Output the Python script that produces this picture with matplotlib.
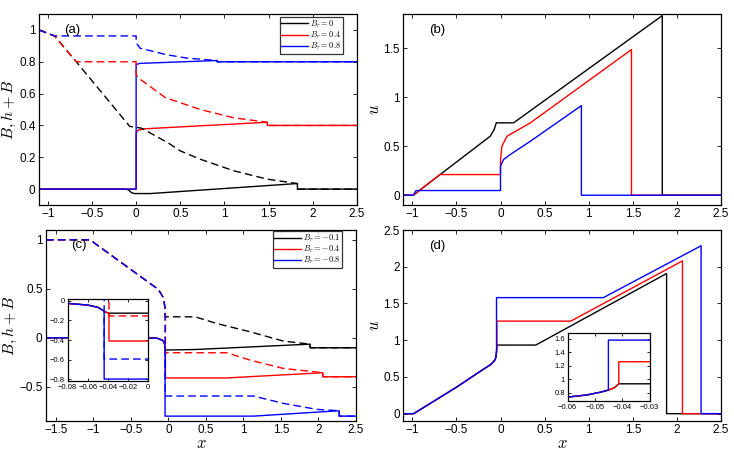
import matplotlib
matplotlib.use('Agg')
import matplotlib.pyplot as plt
from matplotlib.ticker import FuncFormatter

plt.rcParams['font.family'] = ['Liberation Sans', 'DejaVu Sans']
plt.rcParams['mathtext.fontset'] = 'cm'

# ---- panel (a): B (solid) and h+B (dashed), Br = 0, 0.4, 0.8
a_k_x = [-1.1, -0.11, -0.08, -0.053, -0.02, 0.16, 1.826, 1.826, 2.5]
a_k_B = [0, 0, -0.008, -0.022, -0.028, -0.028, 0.035, 0, 0]
a_k_hx = [-1.1, -0.924, -0.678, -0.072, 0.06, 0.364, 0.5, 0.727, 1.106, 1.485, 1.826, 1.826, 2.5]
a_k_hB = [1.0, 0.9625, 0.80, 0.394, 0.383, 0.29, 0.24, 0.1875, 0.115, 0.0625, 0.035, 0, 0]
a_r_x = [-1.1, 0.0, 0.0, 0.02, 0.099, 1.485, 1.485, 2.5]
a_r_B = [0, 0, 0.352, 0.37, 0.379, 0.42, 0.40, 0.40]
a_r_hx = [-1.1, -0.924, -0.678, 0.0, 0.0, 0.027, 0.33, 0.727, 1.106, 1.485, 1.485, 2.5]
a_r_hB = [1.0, 0.9625, 0.80, 0.80, 0.72, 0.698, 0.575, 0.5, 0.448, 0.42, 0.40, 0.40]
a_b_x = [-1.1, 0.0, 0.0, 0.045, 0.917, 0.917, 2.5]
a_b_B = [0, 0, 0.783, 0.79, 0.808, 0.80, 0.80]
a_b_hx = [-1.1, -0.924, 0.0, 0.0, 0.045, 0.35, 0.576, 0.917, 0.917, 2.5]
a_b_hB = [1.0, 0.9625, 0.9625, 0.92, 0.885, 0.844, 0.823, 0.808, 0.80, 0.80]

# ---- panel (b): u
b_k_x = [-1.1, -0.989, -0.685, -0.117, -0.072, -0.048, 0.148, 1.834, 1.834, 2.5]
b_k_u = [0, 0, 0.211, 0.602, 0.67, 0.739, 0.739, 1.834, 0, 0]
b_r_x = [-1.1, -0.989, -0.685, 0.0, 0.0, 0.016, 0.073, 0.338, 1.485, 1.485, 2.5]
b_r_u = [0, 0, 0.211, 0.211, 0.364, 0.5, 0.602, 0.739, 1.487, 0, 0]
b_b_x = [-1.1, -0.989, -0.958, 0.0, 0.0, 0.034, 0.11, 0.338, 0.917, 0.917, 2.5]
b_b_u = [0, 0, 0.048, 0.048, 0.296, 0.364, 0.415, 0.551, 0.915, 0, 0]

# ---- panel (c): Br = -0.1, -0.4, -0.8
c_k_x = [-1.63, -0.3, -0.15, -0.08, -0.06, -0.05, -0.046, -0.042, -0.039, 0.356, 1.889, 1.889, 2.5]
c_k_B = [0, 0, -0.005, -0.025, -0.042, -0.065, -0.09, -0.115, -0.125, -0.12, -0.065, -0.102, -0.102]
c_k_hx = [-1.63, -1.044, -0.133, -0.067, -0.055, -0.045, -0.045, 0.356, 0.644, 1.089, 1.533, 1.889, 1.889, 2.5]
c_k_hB = [1, 1, 0.493, 0.41, 0.36, 0.3, 0.214, 0.214, 0.146, 0.061, -0.034, -0.065, -0.102, -0.102]
c_r_x = [-1.63, -0.3, -0.15, -0.08, -0.06, -0.05, -0.046, -0.042, -0.039, -0.039, 0.778, 2.058, 2.058, 2.5]
c_r_B = [0, 0, -0.005, -0.025, -0.042, -0.065, -0.09, -0.115, -0.125, -0.41, -0.41, -0.357, -0.398, -0.398]
c_r_hx = [-1.63, -1.044, -0.133, -0.067, -0.055, -0.045, -0.039, -0.039, 0.778, 1.089, 1.533, 2.058, 2.058, 2.5]
c_r_hB = [1, 1, 0.493, 0.41, 0.36, 0.3, 0.28, -0.153, -0.153, -0.228, -0.313, -0.357, -0.398, -0.398]
c_b_x = [-1.63, -0.3, -0.15, -0.08, -0.06, -0.05, -0.046, -0.0438, -0.0438, 1.133, 2.276, 2.276, 2.5]
c_b_B = [0, 0, -0.005, -0.025, -0.042, -0.065, -0.09, -0.1, -0.8, -0.8, -0.745, -0.80, -0.80]
c_b_hx = [-1.63, -1.044, -0.133, -0.067, -0.055, -0.0438, -0.0438, 1.133, 1.533, 1.978, 2.276, 2.276, 2.5]
c_b_hB = [1, 1, 0.493, 0.41, 0.36, 0.3, -0.595, -0.595, -0.67, -0.731, -0.745, -0.80, -0.80]

# ---- panel (d): u
d_k_x = [-1.1, -0.985, -0.5, -0.2, -0.111, -0.08, -0.06, -0.053, -0.048, -0.0451, -0.0429, -0.0413, 0.40, 1.883, 1.883, 2.5]
d_k_u = [0, 0, 0.36, 0.6, 0.669, 0.705, 0.738, 0.769, 0.81, 0.841, 0.877, 0.934, 0.934, 1.908, 0, 0]
d_r_x = [-1.1, -0.985, -0.5, -0.2, -0.111, -0.08, -0.06, -0.053, -0.048, -0.0451, -0.0429, -0.0413, -0.0413, 0.797, 2.063, 2.063, 2.5]
d_r_u = [0, 0, 0.36, 0.6, 0.669, 0.705, 0.738, 0.769, 0.81, 0.841, 0.877, 0.934, 1.26, 1.26, 2.08, 0, 0]
d_b_x = [-1.1, -0.985, -0.5, -0.2, -0.111, -0.08, -0.06, -0.053, -0.048, -0.0451, -0.0451, 1.167, 2.274, 2.274, 2.5]
d_b_u = [0, 0, 0.36, 0.6, 0.669, 0.705, 0.738, 0.769, 0.81, 0.841, 1.58, 1.58, 2.286, 0, 0]

labels_top = ['$B_r = 0$', '$B_r = 0.4$', '$B_r = 0.8$']
labels_bot = ['$B_r = -0.1$', '$B_r = -0.4$', '$B_r = -0.8$']
dash = (5.5, 3)


def fmt(v, pos):
    if abs(v) < 1e-9:
        return '0'
    return ('%g' % round(v, 6)).replace('-', '\u2212')


def style(ax, xt, yt, fs=8.5, tl=3):
    ax.set_xticks(xt)
    ax.set_yticks(yt)
    ax.xaxis.set_major_formatter(FuncFormatter(fmt))
    ax.yaxis.set_major_formatter(FuncFormatter(fmt))
    ax.tick_params(direction='in', top=True, right=True, length=tl, width=0.6,
                   labelsize=fs, pad=2.5)
    for s in ax.spines.values():
        s.set_linewidth(0.9)


def small_legend(ax, anchor):
    leg = ax.legend(loc='upper right', bbox_to_anchor=anchor, fontsize=6,
                    frameon=True, fancybox=False, edgecolor='black', handlelength=3.2,
                    handleheight=0.5, borderpad=0.15, labelspacing=0.0,
                    handletextpad=0.3, borderaxespad=0)
    leg.get_frame().set_linewidth(0.9)


fig = plt.figure(figsize=(7.34, 4.5), dpi=100)

# (a)
ax = fig.add_axes([0.0531, 0.5444, 0.4332, 0.4244])
for xs, ys, c, lab in [(a_k_x, a_k_B, 'black', labels_top[0]),
                       (a_r_x, a_r_B, 'red', labels_top[1]),
                       (a_b_x, a_b_B, 'blue', labels_top[2])]:
    ax.plot(xs, ys, color=c, lw=1.0, label=lab)
for xs, ys, c in [(a_k_hx, a_k_hB, 'black'), (a_r_hx, a_r_hB, 'red'), (a_b_hx, a_b_hB, 'blue')]:
    ax.plot(xs, ys, color=c, lw=1.0, dashes=dash)
ax.set_xlim(-1.1, 2.5)
ax.set_ylim(-0.1, 1.1)
style(ax, [-1, -0.5, 0, 0.5, 1, 1.5, 2, 2.5], [0, 0.2, 0.4, 0.6, 0.8, 1])
ax.set_ylabel('$B, h+B$', fontsize=11.5, labelpad=1)
ax.text(0.103, 0.916, '(a)', transform=ax.transAxes, fontsize=9.5, ha='center', va='center')
small_legend(ax, (0.956, 0.985))

# (b)
ax = fig.add_axes([0.5497, 0.5444, 0.4326, 0.4244])
for xs, ys, c in [(b_k_x, b_k_u, 'black'), (b_r_x, b_r_u, 'red'), (b_b_x, b_b_u, 'blue')]:
    ax.plot(xs, ys, color=c, lw=1.0)
ax.set_xlim(-1.1, 2.5)
ax.set_ylim(-0.1, 1.85)
style(ax, [-1, -0.5, 0, 0.5, 1, 1.5, 2, 2.5], [0, 0.5, 1, 1.5])
ax.set_ylabel('$u$', fontsize=12, labelpad=1)
ax.text(0.105, 0.916, '(b)', transform=ax.transAxes, fontsize=9.5, ha='center', va='center')

# (c)
ax = fig.add_axes([0.0627, 0.0644, 0.4223, 0.4244])
c_sets = [(c_k_x, c_k_B, c_k_hx, c_k_hB, 'black', labels_bot[0]),
          (c_r_x, c_r_B, c_r_hx, c_r_hB, 'red', labels_bot[1]),
          (c_b_x, c_b_B, c_b_hx, c_b_hB, 'blue', labels_bot[2])]
for xs, ys, hx, hy, c, lab in c_sets:
    ax.plot(xs, ys, color=c, lw=1.0, label=lab)
for xs, ys, hx, hy, c, lab in c_sets:
    ax.plot(hx, hy, color=c, lw=1.0, dashes=dash)
ax.set_xlim(-1.63, 2.5)
ax.set_ylim(-0.85, 1.1)
style(ax, [-1.5, -1, -0.5, 0, 0.5, 1, 1.5, 2, 2.5], [-0.5, 0, 0.5, 1])
ax.set_ylabel('$B, h+B$', fontsize=11.5, labelpad=0)
ax.set_xlabel('$x$', fontsize=12, labelpad=0)
ax.text(0.106, 0.92, '(c)', transform=ax.transAxes, fontsize=9.5, ha='center', va='center')
small_legend(ax, (0.955, 0.995))

# inset of (c)
axi = fig.add_axes([0.0922, 0.1533, 0.1098, 0.1822])
for xs, ys, hx, hy, c, lab in c_sets:
    axi.plot(xs, ys, color=c, lw=1.0)
for xs, ys, hx, hy, c, lab in c_sets:
    axi.plot(hx, hy, color=c, lw=1.0, dashes=dash)
axi.set_xlim(-0.08, 0)
axi.set_ylim(-0.82, 0.02)
style(axi, [-0.08, -0.06, -0.04, -0.02, 0], [-0.8, -0.6, -0.4, -0.2, 0], fs=5.5, tl=2)
axi.tick_params(pad=2)

# (d)
ax = fig.add_axes([0.5497, 0.0644, 0.4326, 0.4244])
d_sets = [(d_k_x, d_k_u, 'black'), (d_r_x, d_r_u, 'red'), (d_b_x, d_b_u, 'blue')]
for xs, ys, c in d_sets:
    ax.plot(xs, ys, color=c, lw=1.0)
ax.set_xlim(-1.1, 2.5)
ax.set_ylim(-0.1, 2.5)
style(ax, [-1, -0.5, 0, 0.5, 1, 1.5, 2, 2.5], [0, 0.5, 1, 1.5, 2, 2.5])
ax.set_ylabel('$u$', fontsize=12, labelpad=1)
ax.set_xlabel('$x$', fontsize=12, labelpad=0)
ax.text(0.107, 0.917, '(d)', transform=ax.transAxes, fontsize=9.5, ha='center', va='center')

# inset of (d)
axi = fig.add_axes([0.7734, 0.1089, 0.1117, 0.1504])
for xs, ys, c in d_sets:
    axi.plot(xs, ys, color=c, lw=1.0)
axi.set_xlim(-0.06, -0.03)
axi.set_ylim(0.68, 1.68)
style(axi, [-0.06, -0.05, -0.04, -0.03], [0.8, 1, 1.2, 1.4, 1.6], fs=5.5, tl=2)
axi.tick_params(pad=2)

fig.savefig('out.png', dpi=100)
